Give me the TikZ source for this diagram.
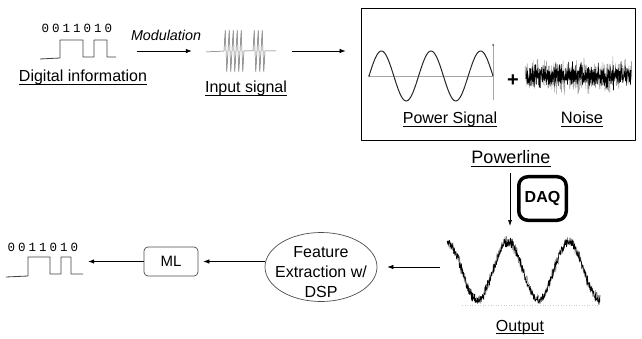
\documentclass[tikz,border=0pt]{standalone}
\usepackage{fontspec}
\setmainfont{Liberation Sans}
\newfontfamily\bitfont{Liberation Mono}
\usetikzlibrary{arrows.meta,shapes.geometric}
\newcommand\myul[1]{\setbox0\hbox{#1}\rlap{\vrule height -2pt depth 3.2pt width \wd0}\box0}
\newcommand\bitstr{0\kern3pt0\kern3pt1\kern3pt1\kern3pt0\kern3pt1\kern3pt0}
\begin{document}
\begin{tikzpicture}[x=1pt,y=-1pt, line join=round,
  lbl/.style={font=\fontsize{16}{19}\selectfont, inner sep=0, anchor=base},
  bits/.style={font=\bitfont\fontsize{12.5}{14}\selectfont, inner sep=0, anchor=base, text=black},
  ghost/.style={inner sep=0, draw=none},
  wave/.style={draw=black!75, line width=0.8pt},
  arr/.style={-{Latex[length=6pt,width=4.5pt]}, line width=0.7pt}]
\useasboundingbox (0,0) rectangle (642,339);

% ---- top left: digital information
\node[bits] (bits1) at (77,33) {\bitstr};
\node[ghost, minimum width=76pt, minimum height=24pt] (dig) at (78,51) {};
\draw[wave] (40,59) -- (60,58) -- (60,40) -- (83,40) -- (83,57) -- (94,57) -- (94,40) -- (107,40) -- (107,57) -- (116,57);
\node[lbl] (dinfo) at (83,82) {\myul{Digital information}};

\node[lbl, font=\itshape\fontsize{14.3}{17}\selectfont] (mod) at (166,41) {Modulation};

% ---- input signal
\node[ghost, minimum width=70pt, minimum height=40pt] (inp) at (241,51) {};
\draw[black!60, line width=0.5pt] (206,52) -- (224,51)
  \foreach \k in {0,...,4} { -- ++(1.2,-21) -- ++(1.6,42) -- ++(1.2,-21) }
  -- (253,51)
  \foreach \k in {0,1,2} { -- ++(1.2,-21) -- ++(1.6,42) -- ++(1.2,-21) }
  -- (276,51);
\node[lbl] (inlbl) at (246,93) {\myul{Input signal}};

\draw[arr, shorten <=21pt, shorten >=14pt] (dig.east) -- (inp.west);

% ---- powerline box
\node[draw, line width=0.8pt, minimum width=274pt, minimum height=132pt, inner sep=0] (box) at (498,74) {};
\draw[arr, shorten <=16pt, shorten >=15pt] (inp.east) -- (inp.east -| box.west);

\draw[gray!70, line width=0.5pt] (369,76) -- (493,76);
\draw[gray!70, line width=0.7pt] (493,45) -- (493,100);
\fill[black!70] (493,45) circle (1pt);
\fill[black!70] (369,76) circle (1pt);
\draw[line width=1pt, black!85] plot[domain=369:493, samples=150, smooth] (\x,{76-25*sin((\x-369)/49.6*360)});
\node[lbl] (pslbl) at (450,124) {\myul{Power Signal}};

\node[font=\bfseries\fontsize{20}{20}\selectfont, inner sep=0] (plus) at (513,81) {+};

\pgfmathsetseed{3}
\draw[gray!75, line width=0.5pt] plot[domain=525:632, samples=420] (\x,{76+7.5*(rand+rand+rand)});
\draw[black, line width=0.6pt] plot[domain=526:631, samples=480] (\x,{76+5.5*(rand+rand+rand)});
\node[lbl, font=\fontsize{16.5}{19}\selectfont] (nlbl) at (582,124) {\myul{Noise}};

% ---- powerline / DAQ
\node[lbl, font=\fontsize{18}{20}\selectfont] (pl) at (511,164) {\myul{Powerline}};
\coordinate (d1) at (510,173);
\coordinate (d2) at (510,226);
\draw[-{Latex[length=6pt,width=4pt]}, line width=0.6pt] (d1) -- (d2);
\node[draw, line width=3.5pt, rounded corners=9pt, minimum width=47.5pt, minimum height=43.5pt, inner sep=0,
      font=\bfseries\fontsize{16}{19}\selectfont] (daq) at (542.5,198.5) {DAQ};

% ---- output
\node[ghost, minimum width=153pt, minimum height=70pt] (outw) at (523.5,267) {};
\draw[gray!40, dotted, line width=0.6pt] (462,305) -- (598,305);
\pgfmathsetseed{11}
\draw[gray, line width=0.5pt] plot[domain=447:600, samples=320] (\x,{271-29*cos((\x-447)/61*360)+4*(rand+rand)});
\draw[black, line width=0.6pt] plot[domain=447:600, samples=480] (\x,{271-29*cos((\x-447)/61*360)+3*(rand+rand)});
\node[lbl] (outlbl) at (520,331) {\myul{Output}};

% ---- feature extraction
\node[ellipse, draw=gray!60!black, line width=0.7pt, minimum width=112pt, minimum height=69pt, inner sep=0] (fe) at (321,267) {};
\node[align=center, font=\fontsize{16}{20}\selectfont, inner sep=0] (fet) at (321,272) {Feature\\Extraction w/\\DSP};
\draw[arr, shorten <=7pt, shorten >=10pt] (outw.west) -- (fe.east);

% ---- ML
\node[draw=gray!60!black, rounded corners=4pt, line width=0.7pt, minimum width=54pt, minimum height=29pt, inner sep=0,
      font=\fontsize{15}{18}\selectfont] (ml) at (171,261.5) {ML};
\draw[arr, shorten >=5pt] (ml.east -| fe.west) -- (ml.east);

% ---- output bits
\node[bits] (bits2) at (43,251) {\bitstr};
\node[ghost, minimum width=77pt, minimum height=22pt] (odig) at (44.5,261.5) {};
\draw[wave] (6,277) -- (28,276) -- (28,257) -- (50,257) -- (50,274) -- (61,274) -- (61,257) -- (71,257) -- (71,274) -- (83,274);
\draw[arr, shorten >=5pt] (ml.west) -- (odig.east);
\end{tikzpicture}
\end{document}
